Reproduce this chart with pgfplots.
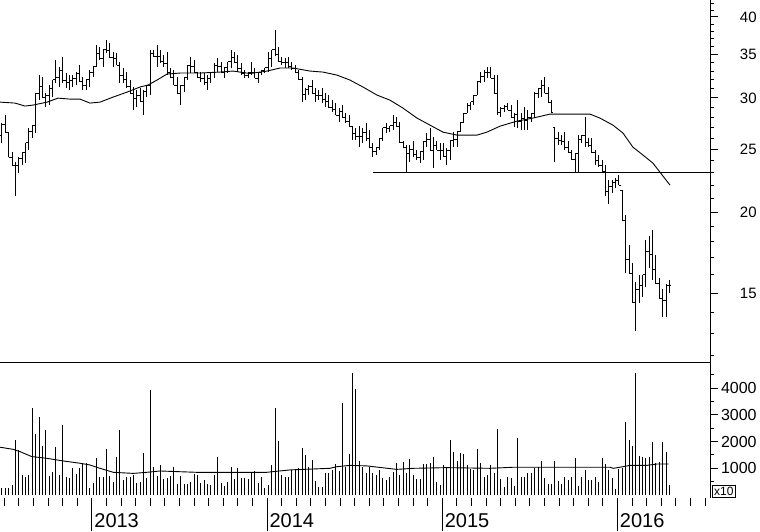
\documentclass[border=0pt]{standalone}
\usepackage{pgfplots}
\pgfplotsset{compat=1.18}
\usepackage{pgfplotstable}
\usepackage{fontspec}
\setmainfont{Liberation Sans}

% short left / right ticks of an OHLC bar
\pgfdeclareplotmark{opentick}{\pgfpathmoveto{\pgfqpoint{-1pt}{0pt}}\pgfpathlineto{\pgfqpoint{0pt}{0pt}}\pgfusepathqstroke}
\pgfdeclareplotmark{closetick}{\pgfpathmoveto{\pgfqpoint{0pt}{0pt}}\pgfpathlineto{\pgfqpoint{1pt}{0pt}}\pgfusepathqstroke}

% weekly bars: open high low close volume(x10)
\pgfplotstableread{
o h l c v
26.3 27.4 25.6 27.3 250
27.3 28.2 26.5 26.5 250
26.5 26.5 24.3 24.3 250
24.3 24.8 23.6 23.6 375
23.6 23.9 21.2 23.6 2060
23.6 24.3 23.0 24.2 1690
24.2 24.8 23.6 24.7 750
24.7 25.6 23.8 25.6 690
25.6 27.0 24.9 26.6 750
26.6 27.2 26.0 27.2 3250
27.2 30.5 26.5 30.5 2290
30.5 32.5 29.8 31.2 2910
31.2 32.3 30.1 30.1 1840
30.1 30.5 29.0 30.3 2440
30.3 31.4 29.3 31.0 710
31.0 32.0 30.1 32.0 850
32.0 34.3 31.6 32.3 1790
32.3 33.5 31.2 33.1 750
33.1 34.7 31.6 31.9 2630
31.9 32.8 31.1 31.7 690
31.7 32.5 30.9 31.9 625
31.9 32.5 31.2 32.1 1000
32.1 32.9 31.4 32.7 790
32.7 33.7 31.8 31.8 1025
31.8 32.3 30.9 31.4 1190
31.4 32.0 30.9 32.0 1190
32.0 33.1 31.2 32.9 250
32.9 33.5 32.3 33.5 440
33.5 36.2 33.5 35.1 1375
35.1 36.0 34.3 34.5 690
34.5 35.6 33.5 35.6 660
35.6 36.9 35.2 35.5 1710
35.5 36.5 34.6 34.6 710
34.6 35.3 33.5 34.5 500
34.5 35.2 33.7 33.7 1410
33.7 34.1 31.6 32.5 2440
32.5 33.4 31.6 32.0 560
32.0 32.9 31.1 31.2 690
31.2 32.0 30.5 30.5 660
30.5 31.2 28.7 29.9 750
29.9 30.9 29.0 30.3 460
30.3 31.1 29.6 29.6 500
29.6 30.9 28.2 30.7 1560
30.7 31.4 30.1 31.4 625
31.4 35.6 30.3 35.1 3940
35.1 35.6 34.7 34.8 1060
34.8 36.2 33.5 34.8 710
34.8 35.6 34.0 34.2 1125
34.2 34.9 33.5 33.9 590
33.9 35.3 32.5 32.8 625
32.8 33.4 32.2 32.3 710
32.3 33.1 31.4 31.4 1040
31.4 32.3 30.5 30.5 410
30.5 31.4 29.3 31.4 710
31.4 32.3 30.6 32.3 410
32.3 33.7 32.0 33.7 410
33.7 34.7 32.8 33.6 500
33.6 34.3 32.9 32.9 790
32.9 32.9 32.2 32.3 750
32.3 32.9 31.8 32.1 440
32.1 32.8 31.4 31.7 560
31.7 32.5 30.9 32.2 410
32.2 32.8 31.6 32.8 375
32.8 34.0 32.2 33.7 750
33.7 34.6 32.9 33.5 1440
33.5 34.1 32.9 32.9 440
32.9 33.4 32.2 33.4 340
33.4 34.1 32.8 34.1 500
34.1 35.6 33.4 34.6 1040
34.6 35.3 34.0 34.0 590
34.0 34.9 32.9 33.3 1025
33.3 34.0 32.5 32.7 625
32.7 33.1 32.2 32.5 625
32.5 32.9 32.2 32.9 590
32.9 34.1 32.5 32.8 875
32.8 33.4 32.2 32.2 910
32.2 32.8 31.6 32.8 440
32.8 33.1 32.5 33.1 660
33.1 33.4 32.8 33.4 250
33.4 35.3 32.9 34.5 375
34.5 35.6 33.5 35.6 1125
35.6 38.2 34.9 35.0 3250
35.0 36.0 34.1 34.2 2040
34.2 34.7 33.7 34.0 750
34.0 34.6 33.4 34.0 690
34.0 34.7 33.4 33.6 690
33.6 34.1 33.1 33.3 940
33.3 33.7 32.9 32.9 960
32.9 33.1 32.0 32.0 1000
32.0 32.3 29.6 30.4 1750
30.4 31.1 29.8 30.9 1500
30.9 31.4 30.3 31.2 1060
31.2 32.0 30.5 30.5 1310
30.5 31.1 29.6 30.3 540
30.3 30.9 29.8 30.3 310
30.3 31.1 29.5 29.8 310
29.8 30.5 29.0 29.6 810
29.6 30.3 28.9 29.0 840
29.0 29.8 28.5 28.8 940
28.8 29.5 28.2 28.2 1160
28.2 28.9 27.5 28.6 910
28.6 29.3 28.0 28.0 3440
28.0 28.4 27.4 27.6 1060
27.6 28.2 27.1 27.1 1540
27.1 27.2 25.8 26.4 4560
26.4 27.0 25.8 26.2 3960
26.2 27.2 25.2 26.2 1290
26.2 27.0 25.6 26.5 1060
26.5 27.4 25.7 26.0 840
26.0 26.8 25.2 25.2 1060
25.2 25.6 24.3 24.8 810
24.8 25.2 24.5 25.2 750
25.2 26.0 24.9 26.0 940
26.0 27.0 25.7 27.0 625
27.0 27.4 26.5 26.9 560
26.9 27.2 26.6 27.2 690
27.2 28.2 26.8 27.5 875
27.5 28.0 27.1 27.1 1210
27.1 27.5 25.6 25.6 750
25.6 25.7 25.2 25.2 1250
25.2 25.4 23.0 24.6 810
24.6 25.4 23.9 25.0 1350
25.0 25.7 24.3 24.5 750
24.5 24.9 24.1 24.3 610
24.3 24.8 23.8 24.8 590
24.8 25.7 24.1 25.7 1160
25.7 26.5 25.2 25.9 1160
25.9 27.0 24.9 24.9 1210
24.9 26.1 23.4 25.3 1410
25.3 25.7 24.9 24.9 500
24.9 25.6 24.1 24.9 375
24.9 25.6 24.3 24.4 1125
24.4 25.1 23.6 24.9 1000
24.9 25.8 24.1 25.8 2060
25.8 26.6 25.2 25.9 1625
25.9 26.6 25.2 26.6 1290
26.6 27.5 26.6 27.5 1590
27.5 28.4 27.4 28.4 1540
28.4 29.5 28.4 29.2 1125
29.2 29.6 28.7 29.6 975
29.6 30.3 29.3 30.3 940
30.3 31.8 30.3 31.8 1725
31.8 32.9 31.6 32.4 1210
32.4 33.1 31.8 32.8 660
32.8 33.5 32.2 32.8 750
32.8 33.5 32.2 32.2 1125
32.2 32.5 30.5 30.5 810
30.5 32.5 28.2 28.5 2475
28.5 29.0 28.0 28.9 600
28.9 29.3 28.5 29.1 310
29.1 29.5 28.7 28.7 690
28.7 29.3 28.0 28.0 625
28.0 28.4 27.1 28.3 340
28.3 29.8 27.0 27.6 2125
27.6 28.4 26.8 27.9 660
27.9 29.0 26.8 27.7 660
27.7 28.7 26.8 28.0 810
28.0 28.4 27.5 28.4 840
28.4 30.6 27.9 30.5 1000
30.5 31.1 30.0 31.0 1060
31.0 32.0 30.1 31.4 1290
31.4 32.3 30.5 30.5 625
30.5 31.2 29.5 29.5 410
29.5 29.8 28.5 28.5 410
27.0 27.0 23.9 26.0 1290
26.0 26.6 25.4 25.8 540
25.8 26.3 25.4 25.7 410
25.7 26.6 24.9 25.2 690
25.2 25.7 24.7 24.7 560
24.7 24.9 24.1 24.1 690
24.1 24.7 23.1 24.6 1400
24.6 26.3 23.1 25.9 340
25.9 26.3 25.6 26.3 690
26.3 28.0 25.2 25.6 940
25.6 26.0 25.2 25.3 560
25.3 26.0 24.7 24.7 560
24.7 24.9 23.6 24.0 690
24.0 24.5 23.5 23.6 500
23.6 24.1 23.1 23.1 1400
23.1 23.6 21.2 21.5 1160
21.5 22.4 20.6 21.9 940
21.9 22.4 21.4 22.2 625
22.2 22.6 21.8 22.4 210
22.4 22.8 22.0 22.0 960
21.6 21.6 19.4 19.4 1000
19.4 19.8 16.1 16.9 2750
16.9 17.8 16.1 16.1 2060
16.1 16.7 14.5 14.5 1840
14.5 15.6 13.1 15.2 4560
15.2 16.0 14.5 15.4 1460
15.4 16.0 14.8 16.0 1410
16.0 18.1 15.3 17.4 1375
17.4 18.4 16.4 17.2 1440
17.2 18.8 15.7 16.3 2000
16.3 17.2 15.5 15.5 1190
15.5 15.8 14.7 14.7 1250
14.7 15.2 13.8 14.6 2000
14.6 15.5 13.8 15.4 1625
15.4 15.7 15.0 15.4 375
}\bars

\begin{document}
\begin{tikzpicture}
% price panel (log scale); x in months from Jan 2013
\begin{axis}[
    name=price,
    at={(0,0)}, anchor=north west,
    scale only axis, width=355pt, height=181pt,
    xmin=-6.30, xmax=42.33,
    ymode=log, ymin=11.74, ymax=42.49,
    axis x line*=bottom, axis y line*=right,
    axis line style={-, line width=0.5pt},
    xtick=\empty,
    ytick={15,20,25,30,35,40},
    yticklabels={15,20,25,30,35,40},
    minor ytick={12,13,...,42},
    tick align=outside,
    major tick length=4pt, minor tick length=2pt,
    every tick/.style={black, line width=0.5pt},
    yticklabel style={anchor=east, inner sep=0pt, xshift=19.5pt, font=\fontsize{7.5}{8}\selectfont},
]
    \addplot[black, only marks, mark=closetick, mark options={line width=0.5pt},
        error bars/.cd, y dir=both, y explicit, error mark=none,
        error bar style={line width=0.5pt, black}]
        table[x expr=-6.164+0.2309*\coordindex, y=c,
              y error plus expr=\thisrow{h}-\thisrow{c},
              y error minus expr=\thisrow{c}-\thisrow{l}] {\bars};
    \addplot[black, only marks, mark=opentick, mark options={line width=0.5pt}]
        table[x expr=-6.164+0.2309*\coordindex, y=o] {\bars};
    % moving average
    \addplot[black, line width=0.45pt] coordinates {
    (-6.30,29.56) (-5.27,29.46) (-4.59,29.15) (-4.04,29.25) (-3.08,29.56)
    (-2.33,29.98) (-1.51,29.88) (-0.82,29.88) (-0.14,29.46) (0.55,29.56)
    (1.44,30.09) (2.40,30.63) (3.29,31.19) (3.84,31.41) (4.45,31.97)
    (5.14,32.66) (6.03,32.78) (7.40,32.78) (8.77,32.89) (9.66,33.01)
    (10.82,32.72) (11.99,33.01) (12.88,33.37) (13.77,33.37) (14.93,33.01)
    (15.82,32.89) (16.78,32.54) (17.67,31.97) (18.56,31.19) (19.52,30.31)
    (20.41,29.77) (21.30,28.94) (22.26,27.93) (23.15,27.24) (24.04,26.57)
    (25.00,26.29) (26.37,26.29) (27.05,26.57) (27.95,27.14) (29.11,27.63)
    (30.21,27.93) (31.37,28.33) (33.42,28.33) (34.11,28.33) (34.79,27.93)
    (35.68,27.24) (36.37,26.48) (37.05,25.19) (37.74,24.49) (38.42,23.80)
    (38.90,23.05) (39.59,22.01)
    };
    % support line
    \addplot[black, line width=0.5pt] coordinates {(19.25,23.05) (42.33,23.05)};
\end{axis}

% volume panel
\begin{axis}[
    name=vol,
    at={(0,-181pt)}, anchor=north west,
    scale only axis, width=355pt, height=68pt,
    xmin=-6.30, xmax=42.33,
    ymin=-112, ymax=4981,
    axis x line*=bottom, axis y line*=right,
    axis line style={-, line width=0.5pt},
    x axis line style={draw=none},
    xtick={-6,-5,...,42}, xticklabels={},
    extra x ticks={0,12,24,36},
    extra x tick labels={2013,2014,2015,2016},
    extra x tick style={major tick length=16.5pt,
        tick label style={anchor=base west, inner sep=0pt, xshift=1pt, yshift=2pt,
        font=\fontsize{10}{12}\selectfont}},
    ytick={1000,2000,3000,4000},
    yticklabels={1000,2000,3000,4000},
    minor ytick={500,1500,2500,3500,4500},
    tick align=outside,
    major tick length=4pt, minor tick length=2pt,
    every tick/.style={black, line width=0.5pt},
    yticklabel style={anchor=east, inner sep=0pt, xshift=19.5pt, font=\fontsize{8}{9}\selectfont},
]
    \addplot[ycomb, black, line width=0.5pt, mark=none]
        table[x expr=-6.164+0.2309*\coordindex, y=v] {\bars};
    \addplot[black, line width=0.45pt] coordinates {
    (-6.30,1790) (-5.39,1710) (-4.93,1625) (-4.13,1440) (-3.10,1375)
    (-1.96,1275) (-0.82,1190) (-0.14,1125) (0.55,1000) (1.46,850)
    (2.83,810) (3.75,850) (4.66,900) (7.17,850) (11.96,850)
    (13.56,940) (16.30,1000) (16.76,1060) (17.67,1110) (18.82,1090)
    (19.61,1040) (20.87,960) (22.01,1000) (24.29,1025) (27.26,1000)
    (28.86,1040) (33.42,1040) (35.48,1040) (35.71,1000) (36.16,1040)
    (36.85,1110) (37.99,1110) (38.68,1160) (39.50,1160)
    };
\end{axis}
\node[draw, line width=0.5pt, anchor=south west, inner sep=0.8pt,
      font=\fontsize{6}{7}\selectfont] at ([xshift=1pt]vol.south east) {x10};

\pgfresetboundingbox
\path[use as bounding box] (0,0) rectangle (380pt,-265.5pt);
\end{tikzpicture}
\end{document}
